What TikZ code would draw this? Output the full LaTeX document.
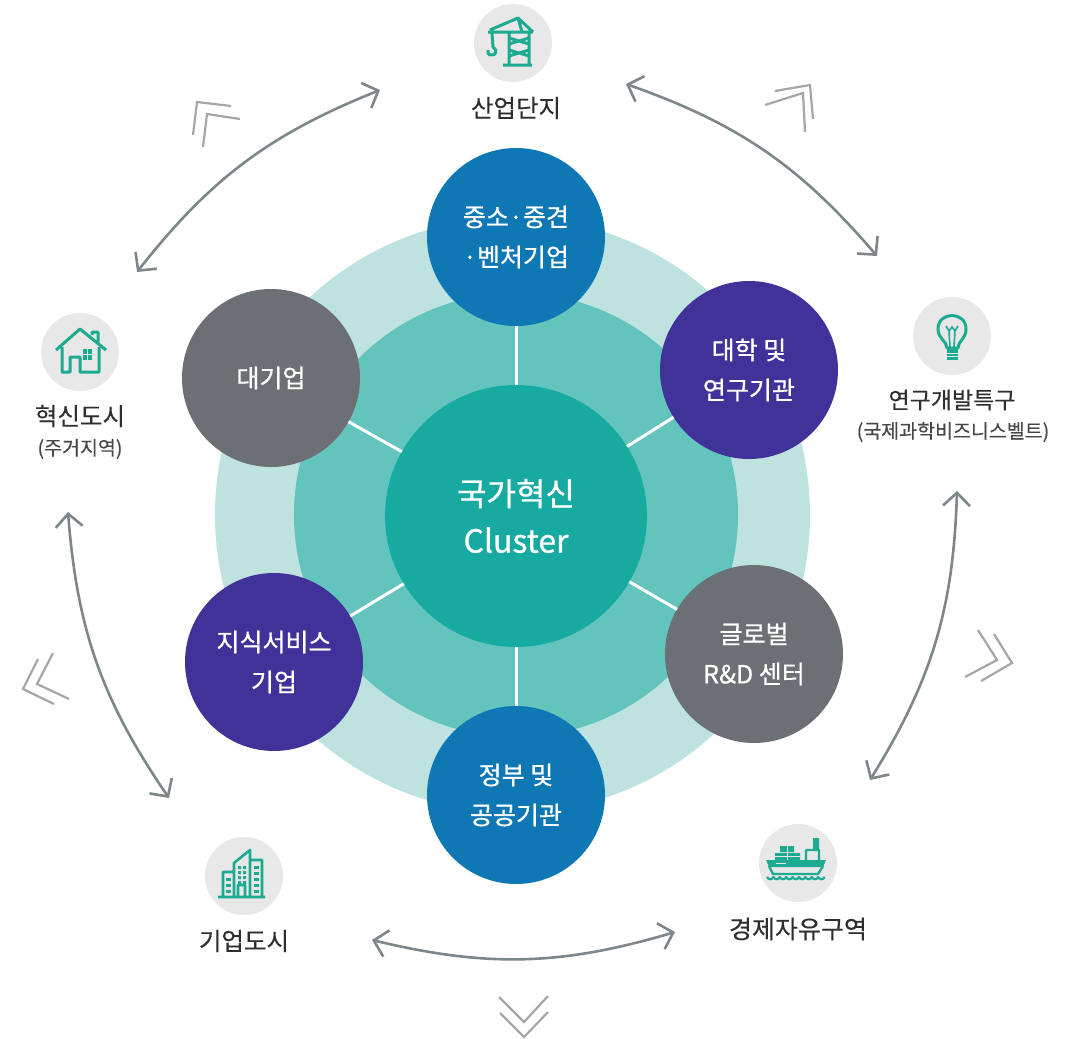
\documentclass[tikz,border=0pt]{standalone}
\usepackage{fontspec}
\setmainfont[FakeBold=0.3]{Noto Sans CJK KR}
\newfontfamily\heavyfont[FakeBold=0.8]{Noto Sans CJK KR}
\usepackage{xcolor}
\usetikzlibrary{arrows.meta}

\definecolor{paleteal}{RGB}{190,226,224}
\definecolor{midteal}{RGB}{98,196,188}
\definecolor{deepteal}{RGB}{22,170,160}
\definecolor{hubblue}{RGB}{15,120,180}
\definecolor{hubpurple}{RGB}{65,50,154}
\definecolor{hubgrey}{RGB}{108,111,116}
\definecolor{icongreen}{RGB}{28,170,145}
\definecolor{arcgrey}{RGB}{125,135,138}

\begin{document}
\begin{tikzpicture}[x=1pt,y=-1pt,>={Straight Barb[length=13pt,width=27pt]},
                    ring/.style={circle,inner sep=0pt,outer sep=0pt},
                    hub/.style={ring,minimum size=178pt,text=white,align=center,
                                font=\heavyfont\fontsize{25}{40}\selectfont},
                    badge/.style={circle,fill=black!9,inner sep=0pt,minimum size=78pt},
                    place/.style={inner sep=0pt,align=center,text=black!82,
                                  font=\fontsize{24.5}{28}\selectfont},
                    subplace/.style={inner sep=0pt,align=center,text=black!72,
                                     font=\fontsize{19.5}{22}\selectfont},
                    spoke/.style={draw=white,line width=3pt},
                    arc/.style={<->,draw=arcgrey,line width=2.6pt,bend left=15},
                    chevron/.style={draw=black!35,line width=2.2pt},
                    iconline/.style={draw=icongreen,line width=3pt,line join=round},
                    iconfill/.style={fill=icongreen}]

    \useasboundingbox (0,0) rectangle (1074,1039);

    \node[ring,fill=paleteal,minimum size=595pt] (outer) at (512.5,515) {};
    \node[ring,fill=midteal,minimum size=444pt] (inner) at (516,515) {};

    \node[ring,fill=deepteal,minimum size=262pt,text=white,align=center,
          font=\heavyfont\fontsize{32}{47}\selectfont] (cluster) at (516,516) {국가혁신\\Cluster};
    \node[hub,fill=hubblue] (sme) at (516,237) {중소·중견\\·벤처기업};
    \node[hub,fill=hubpurple] (univ) at (749,370) {대학 및\\연구기관};
    \node[hub,fill=hubgrey] (global) at (754,654) {글로벌\\R\&D 센터};
    \node[hub,fill=hubblue] (gov) at (516,795) {정부 및\\공공기관};
    \node[hub,fill=hubpurple] (know) at (274,662) {지식서비스\\기업};
    \node[hub,fill=hubgrey] (large) at (271,378) {대기업};

    \foreach \hub in {sme,univ,global,gov,know,large}
        \draw[spoke] (cluster) -- (\hub);

    % places round the ring
    \node[badge] (crane) at (513,43) {};
    \node[place] (industry) at (516,108) {산업단지};
    \node[badge] (house) at (80,352) {};
    \node[place] (innov) at (80,416) {혁신도시};
    \node[subplace] (innovsub) at (80,449) {(주거지역)};
    \node[badge] (bulb) at (952,336) {};
    \node[place,font=\fontsize{23}{28}\selectfont] (rnd) at (952,400) {연구개발특구};
    \node[subplace] (rndsub) at (953,432) {(국제과학비즈니스벨트)};
    \node[badge] (ship) at (798,863) {};
    \node[place,font=\fontsize{25}{28}\selectfont] (free) at (798,929) {경제자유구역};
    \node[badge] (towers) at (244,876) {};
    \node[place] (corp) at (244,941) {기업도시};

    \coordinate (a1) at (137,272);
    \coordinate (a2) at (380,90);
    \coordinate (b1) at (626,84);
    \coordinate (b2) at (877,256);
    \coordinate (c1) at (957,491);
    \coordinate (c2) at (870,780);
    \coordinate (d1) at (675,932);
    \coordinate (d2) at (372,940);
    \coordinate (e1) at (169,798);
    \coordinate (e2) at (68,512);

    \path
        (a1) edge [arc] (a2)
        (b1) edge [arc] (b2)
        (c1) edge [arc] (c2)
        (d1) edge [arc] (d2)
        (e1) edge [arc] (e2);

    % chevrons
    \foreach \ax/\ay/\bx/\by/\cx/\cy in {
        765/105/803/93/805/132, 775/91/810/85/813/119,
        978/630/997/660/965/677, 994/634/1012/663/981/681,
        499/997/524/1022/548/996, 500/1013/524/1037/548/1012,
        38/659/23/689/54/704, 53/653/37/684/69/699,
        193/135/197/102/231/106, 203/147/207/114/240/119}
        \draw[chevron] (\ax,\ay) -- (\bx,\by) -- (\cx,\cy);

    % crane
    \draw[iconline] (503,65) -- (532,65) (509,65) -- (509,33) (529,65) -- (529,33)
        (488,32) -- (533,32) (490,30) -- (518,18) -- (533,32) (518,18) -- (522,32)
        (509,38) -- (529,44) (509,44) -- (529,38) (509,50) -- (529,56) (509,56) -- (529,50)
        (492,33) -- (493,47) .. controls (498,50) and (496,56) .. (491,55) .. controls (488,55) and (487,52) .. (488,50);
    % house
    \draw[iconline] (56,350) -- (80,329) -- (106,350) (62,347) -- (62,372) -- (70,372) -- (70,357)
        -- (80,357) -- (80,372) -- (99,372) -- (99,347) (92,335) -- (92,332) -- (98,332) -- (98,342);
    \fill[iconfill] (83,349) rectangle (92,360);
    \draw[black!9,line width=0.8pt] (87.5,349) -- (87.5,360) (83,354.5) -- (92,354.5);
    % bulb
    \draw[iconline] (947,348) .. controls (947,341) and (938,339) .. (938,329)
        .. controls (938,311) and (966,311) .. (966,329) .. controls (966,339) and (958,341) .. (958,348) -- cycle;
    \draw[iconline,line width=1.6pt] (946,326) -- (949,331) -- (952,327) -- (955,331) -- (958,326)
        (949,331) -- (950,347) (955,331) -- (954,347);
    \fill[iconfill] (947,349) rectangle (958,360);
    \draw[black!9,line width=1pt] (947,353) -- (958,353) (947,356.5) -- (958,356.5);
    % ship
    \fill[iconfill] (766,860) -- (826,860) -- (823,867) -- (769,867) -- cycle;
    \draw[iconline,line width=2.4pt] (769,866) -- (773,874) -- (818,874) -- (823,866)
        (806,860) -- (806,850) -- (819,850) -- (819,860);
    \fill[iconfill] (813,838) rectangle (819,850) (775,853) rectangle (800,860)
        (780,846) rectangle (794,852);
    \draw[black!9,line width=1pt] (787,846) -- (787,860) (775,856.5) -- (800,856.5)
        (776,863.5) -- (786,863.5);
    \draw[iconline,line width=2.2pt] (767,877) \foreach \w in {1,...,9} {
        .. controls ++(1.5,3) and ++(-1.5,3) .. ++(6.4,0)};
    % towers
    \draw[iconline,line width=2.6pt] (218,897) -- (265,897) (223,897) -- (223,872) -- (234,872)
        (234,897) -- (234,863) -- (250,850) -- (250,897)
        (250,860) -- (262,860) -- (262,897) (238,897) -- (238,885) -- (245,885) -- (245,897);
    \foreach \wy in {866,871,876,881}
        \fill[iconfill] (238,\wy) rectangle (241,\wy+3) (243,\wy) rectangle (246,\wy+3);
    \foreach \wy in {866,872,878,884,890} {
        \fill[iconfill] (254,\wy) rectangle (259,\wy+3);
    }
    \foreach \wy in {878,884,890} {
        \fill[iconfill] (226,\wy) rectangle (231,\wy+3);
    }
\end{tikzpicture}
\end{document}
